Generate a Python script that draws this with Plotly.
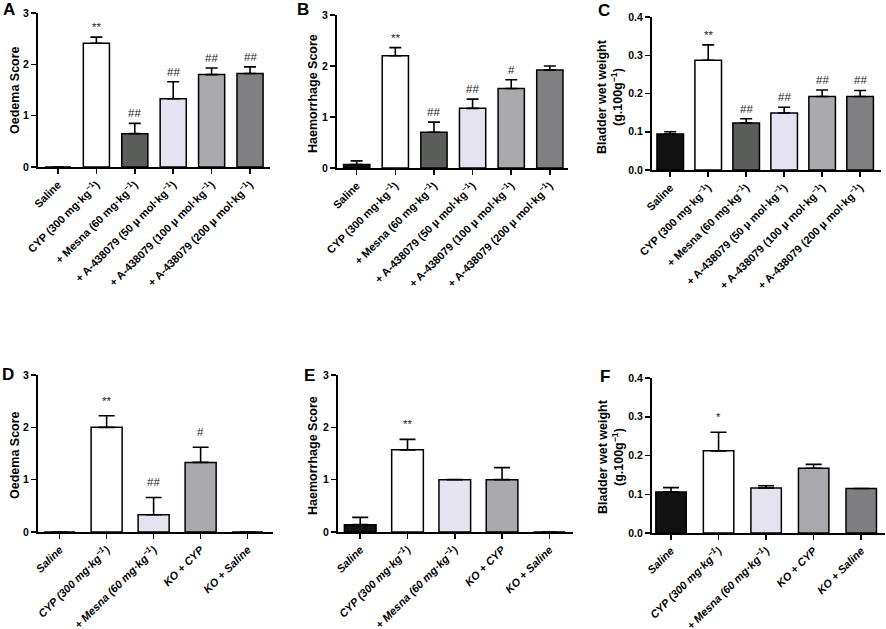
import plotly.graph_objects as go

W, H = 886, 629

# ---------------- data ----------------
cats_top = [
    "Saline",
    "CYP (300 mg·kg<sup>−1</sup>)",
    "+ Mesna (60 mg·kg<sup>−1</sup>)",
    "+ A-438079 (50 µ mol·kg<sup>−1</sup>)",
    "+ A-438079 (100 µ mol·kg<sup>−1</sup>)",
    "+ A-438079 (200 µ mol·kg<sup>−1</sup>)",
]
cats_bot = [
    "Saline",
    "CYP (300 mg·kg<sup>−1</sup>)",
    "+ Mesna (60 mg·kg<sup>−1</sup>)",
    "KO + CYP",
    "KO + Saline",
]

A_vals = [0, 2.41, 0.65, 1.33, 1.80, 1.82]
A_err = [None, 0.12, 0.20, 0.33, 0.13, 0.13]
A_sig = ["", "**", "##", "##", "##", "##"]

B_vals = [0.07, 2.20, 0.70, 1.17, 1.56, 1.92]
B_err = [0.07, 0.16, 0.20, 0.18, 0.17, 0.08]
B_sig = ["", "**", "##", "##", "#", ""]

C_vals = [0.094, 0.287, 0.123, 0.149, 0.192, 0.192]
C_err = [0.006, 0.040, 0.011, 0.015, 0.017, 0.016]
C_sig = ["", "**", "##", "##", "##", "##"]

D_vals = [0, 2.00, 0.33, 1.33, 0]
D_err = [None, 0.22, 0.33, 0.29, None]
D_sig = ["", "**", "##", "#", ""]

E_vals = [0.14, 1.57, 1.00, 1.00, 0]
E_err = [0.14, 0.20, None, 0.23, None]
E_sig = ["", "**", "", "", ""]

F_vals = [0.106, 0.212, 0.116, 0.167, 0.115]
F_err = [0.011, 0.048, 0.006, 0.010, None]
F_sig = ["", "*", "", "", ""]

colors_top = ["#111111", "#ffffff", "#5b5e5b", "#e6e3f1", "#a9a9ae", "#808083"]
colors_bot = ["#111111", "#ffffff", "#e6e3f1", "#a9a9ae", "#7f7f82"]

y_titles = ["Oedema Score", "Haemorrhage Score", "Bladder wet weight<br>(g.100g<sup>−1</sup>)"]
letters = ["A", "B", "C", "D", "E", "F"]

# ---------------- layout geometry (pixels) ----------------
panels = [
    dict(x0=38, x1=270, yb=167, yt=13, xr=[-0.52, 5.52], yr=[0, 3], dt=1, bw=0.68, cap=6,
         cats=cats_top, vals=A_vals, err=A_err, sig=A_sig, cols=colors_top, title=y_titles[0],
         tx=15, ty=90, lx=9, ly=9, fmt="d", italic=False),
    dict(x0=337, x1=568, yb=168, yt=15, xr=[-0.51, 5.47], yr=[0, 3], dt=1, bw=0.68, cap=6,
         cats=cats_top, vals=B_vals, err=B_err, sig=B_sig, cols=colors_top, title=y_titles[1],
         tx=313, ty=94, lx=303, ly=9, fmt="d", italic=False),
    dict(x0=652, x1=881, yb=170, yt=17, xr=[-0.48, 5.55], yr=[0, 0.4], dt=0.1, bw=0.70, cap=6,
         cats=cats_top, vals=C_vals, err=C_err, sig=C_sig, cols=colors_top, title=y_titles[2],
         tx=610, ty=97, lx=604, ly=10, fmt=".1f", italic=False),
    dict(x0=38, x1=273, yb=532, yt=375, xr=[-0.46, 4.54], yr=[0, 3], dt=1, bw=0.66, cap=8,
         cats=cats_bot, vals=D_vals, err=D_err, sig=D_sig, cols=colors_bot, title=y_titles[0],
         tx=15, ty=455, lx=8, ly=374, fmt="d", italic=True),
    dict(x0=338, x1=573, yb=532, yt=375, xr=[-0.47, 4.50], yr=[0, 3], dt=1, bw=0.67, cap=8,
         cats=cats_bot, vals=E_vals, err=E_err, sig=E_sig, cols=colors_bot, title=y_titles[1],
         tx=313, ty=456, lx=309, ly=375, fmt="d", italic=True),
    dict(x0=652, x1=885, yb=533, yt=378, xr=[-0.40, 4.50], yr=[0, 0.4], dt=0.1, bw=0.64, cap=8,
         cats=cats_bot, vals=F_vals, err=F_err, sig=F_sig, cols=colors_bot, title=y_titles[2],
         tx=611, ty=457, lx=605, ly=376, fmt=".1f", italic=True),
]

FONT = "Arial, Liberation Sans, Helvetica, sans-serif"

fig = go.Figure()
layout = dict(
    width=W, height=H, margin=dict(l=0, r=0, t=0, b=0, autoexpand=False),
    paper_bgcolor="white", plot_bgcolor="white", showlegend=False,
    font=dict(family=FONT, color="black"),
    bargap=0,
)
annotations = []

for i, p in enumerate(panels):
    n = i + 1
    xa = "x" if n == 1 else f"x{n}"
    ya = "y" if n == 1 else f"y{n}"
    minus = [0 if e is not None else None for e in p["err"]]
    fig.add_trace(go.Bar(
        x=p["cats"], y=p["vals"], xaxis=xa, yaxis=ya,
        width=[p["bw"]] * len(p["cats"]),
        marker=dict(color=p["cols"], line=dict(color="black", width=1.5)),
        error_y=dict(type="data", array=p["err"], arrayminus=minus, symmetric=False,
                     color="black", thickness=1.6, width=p["cap"]),
        hoverinfo="skip",
    ))
    tickfont = dict(family=FONT, size=11, color="black", weight="bold")
    if p["italic"]:
        tickfont["style"] = "italic"
    layout["xaxis" if n == 1 else f"xaxis{n}"] = dict(
        domain=[p["x0"] / W, p["x1"] / W], anchor=ya, type="category",
        categoryorder="array", categoryarray=p["cats"], range=p["xr"],
        showline=True, linecolor="black", linewidth=2, ticks="outside", ticklen=5,
        tickwidth=1.5, tickcolor="black", tickangle=-45, tickfont=tickfont,
        showgrid=False, zeroline=False, fixedrange=True, automargin=False,
    )
    layout["yaxis" if n == 1 else f"yaxis{n}"] = dict(
        domain=[1 - p["yb"] / H, 1 - p["yt"] / H], anchor=xa, range=p["yr"],
        tick0=0, dtick=p["dt"], tickformat=p["fmt"],
        showline=True, linecolor="black", linewidth=2, ticks="outside", ticklen=5,
        tickwidth=1.5, tickcolor="black",
        tickfont=dict(family=FONT, size=10.5, color="black", weight="bold"),
        showgrid=False, zeroline=False, fixedrange=True, automargin=False,
    )
    annotations.append(dict(
        xref="paper", yref="paper", x=p["tx"] / W, y=1 - p["ty"] / H,
        text=p["title"], textangle=-90, showarrow=False, xanchor="center", yanchor="middle",
        font=dict(family=FONT, size=12.5, color="black", weight="bold"),
    ))
    annotations.append(dict(
        xref="paper", yref="paper", x=p["lx"] / W, y=1 - p["ly"] / H,
        text=letters[i], showarrow=False, xanchor="center", yanchor="middle",
        font=dict(family=FONT, size=17, color="black", weight="bold"),
    ))
    shift = 2 if n <= 3 else 7
    for c, v, e, s in zip(p["cats"], p["vals"], p["err"], p["sig"]):
        if s:
            annotations.append(dict(
                xref=xa, yref=ya, x=c, y=v + (e or 0), text=s, showarrow=False,
                xanchor="center", yanchor="bottom", yshift=shift,
                font=dict(family=FONT, size=11.5, color="#222222"),
            ))

layout["annotations"] = annotations
fig.update_layout(**layout)
fig.write_html(
    "out.html",
    config={"displayModeBar": False, "staticPlot": True},
    post_script="document.body.style.margin='0';document.body.style.overflow='hidden';",
)
